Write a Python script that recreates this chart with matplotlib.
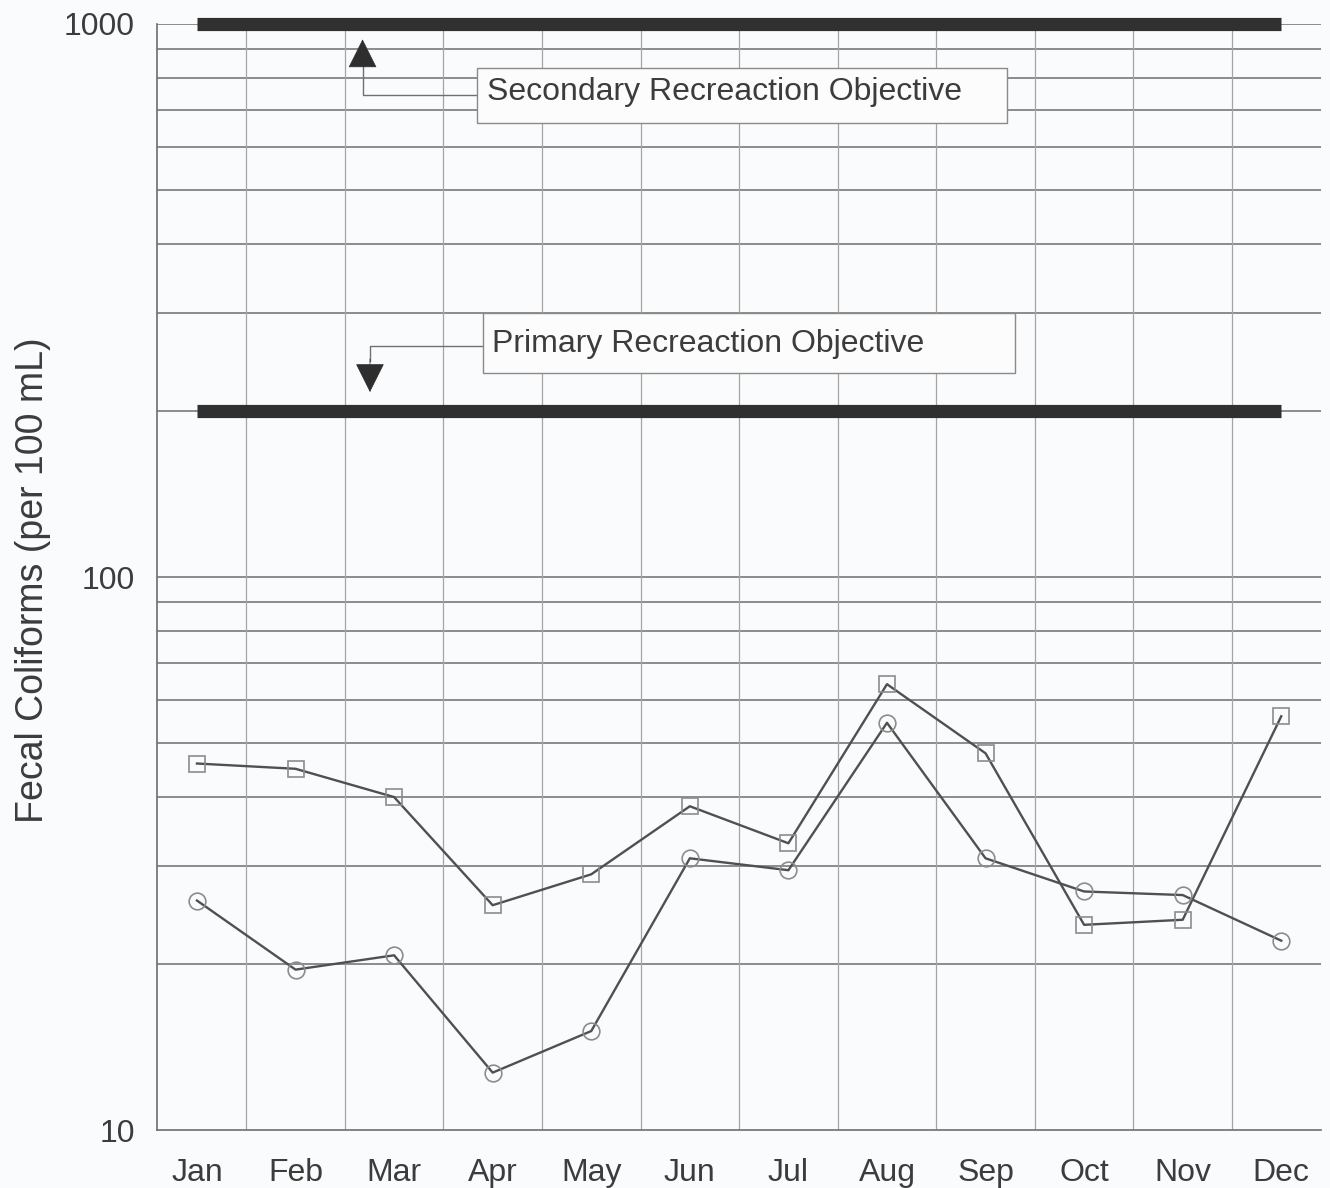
import numpy as np
import matplotlib
matplotlib.use("Agg")
import matplotlib.pyplot as plt
from matplotlib.patches import Rectangle
from matplotlib.ticker import FixedLocator, NullFormatter

plt.rcParams['font.family'] = ['Liberation Sans', 'DejaVu Sans']

months = ["Jan", "Feb", "Mar", "Apr", "May", "Jun",
          "Jul", "Aug", "Sep", "Oct", "Nov", "Dec"]
# fecal coliforms per 100 mL
squares = [46, 45, 40, 25.5, 29, 38.5, 33, 64, 48, 23.5, 24, 56]
circles = [26, 19.5, 20.7, 12.7, 15.1, 31, 29.5, 54.5, 31, 27, 26.6, 22]
secondary_obj = 1000
primary_obj = 200

ink = "#3c3c3c"
x = np.arange(1, 13)

fig = plt.figure(figsize=(13.3, 11.88), dpi=100)
fig.patch.set_facecolor("#fafbfc")
ax = fig.add_axes([0.118, 0.0488, 0.875, 0.931])
ax.set_facecolor("#fafbfc")

ax.set_yscale("log")
ax.set_ylim(10, 1000)
ax.set_xlim(0.594, 12.40)

# grid: horizontal at every log step, vertical between months
yg = [m * 10 ** d for d in (1, 2) for m in range(1, 10)][1:] + [1000]
for v in yg:
    ax.axhline(v, color="#6e6e6e", lw=1.1, zorder=1)
for xv in np.arange(1.5, 12.5, 1.0):
    ax.axvline(xv, color="#a4a4a4", lw=0.9, zorder=1)

# objectives
ax.plot([1, 12], [secondary_obj] * 2, color="#303030", lw=9.5,
        solid_capstyle="butt", zorder=3, clip_on=False)
ax.plot([1, 12], [primary_obj] * 2, color="#303030", lw=9.5,
        solid_capstyle="butt", zorder=3)

# series
ax.plot(x, squares, color="#505050", lw=1.7, marker="s", ms=11,
        mfc="none", mec="#8c8c8c", mew=1.2, zorder=4)
ax.plot(x, circles, color="#505050", lw=1.7, marker="o", ms=12,
        mfc="none", mec="#8c8c8c", mew=1.2, zorder=4)

# annotation boxes
def label_box(x0, x1, y0, y1, text, tx, ty):
    ax.add_patch(Rectangle((x0, y0), x1 - x0, y1 - y0, facecolor="#fcfcfd",
                           edgecolor="#8a8a8a", lw=1.0, zorder=5))
    ax.text(tx, ty, text, fontsize=23, color=ink, va="center", ha="left", zorder=6)

label_box(3.84, 9.22, 661, 833, "Secondary Recreaction Objective", 3.94, 752)
label_box(3.90, 9.30, 234, 300, "Primary Recreaction Objective", 3.99, 264)

# elbow connectors with arrowheads
ax.plot([3.84, 2.68, 2.68], [745, 745, 850], color="#707070", lw=1.0, zorder=4)
ax.annotate("", xy=(2.68, 938), xytext=(2.68, 840),
            arrowprops=dict(arrowstyle="-|>", color="#2e2e2e", lw=0.5,
                            mutation_scale=48, shrinkA=0, shrinkB=0), zorder=6)
ax.plot([3.90, 2.755, 2.755], [262, 262, 246], color="#707070", lw=1.0, zorder=4)
ax.annotate("", xy=(2.755, 216), xytext=(2.755, 248),
            arrowprops=dict(arrowstyle="-|>", color="#2e2e2e", lw=0.5,
                            mutation_scale=48, shrinkA=0, shrinkB=0), zorder=6)

# axes styling
ax.xaxis.set_major_locator(FixedLocator(x))
ax.set_xticklabels(months)
ax.yaxis.set_major_locator(FixedLocator([10, 100, 1000]))
ax.yaxis.set_minor_locator(FixedLocator([]))
ax.yaxis.set_minor_formatter(NullFormatter())
ax.set_yticklabels(["10", "100", "1000"])
ax.tick_params(axis="both", length=0, labelsize=23, colors=ink)
ax.tick_params(axis="y", pad=16)
ax.tick_params(axis="x", pad=20)
ax.set_ylabel("Fecal Coliforms (per 100 mL)", fontsize=27, color=ink)
ax.yaxis.set_label_coords(-0.091, 0.497)

for s in ("top", "right"):
    ax.spines[s].set_visible(False)
for s in ("left", "bottom"):
    ax.spines[s].set_color("#6e6e6e")
    ax.spines[s].set_linewidth(1.2)

fig.savefig("out.png", dpi=100, facecolor=fig.get_facecolor())
